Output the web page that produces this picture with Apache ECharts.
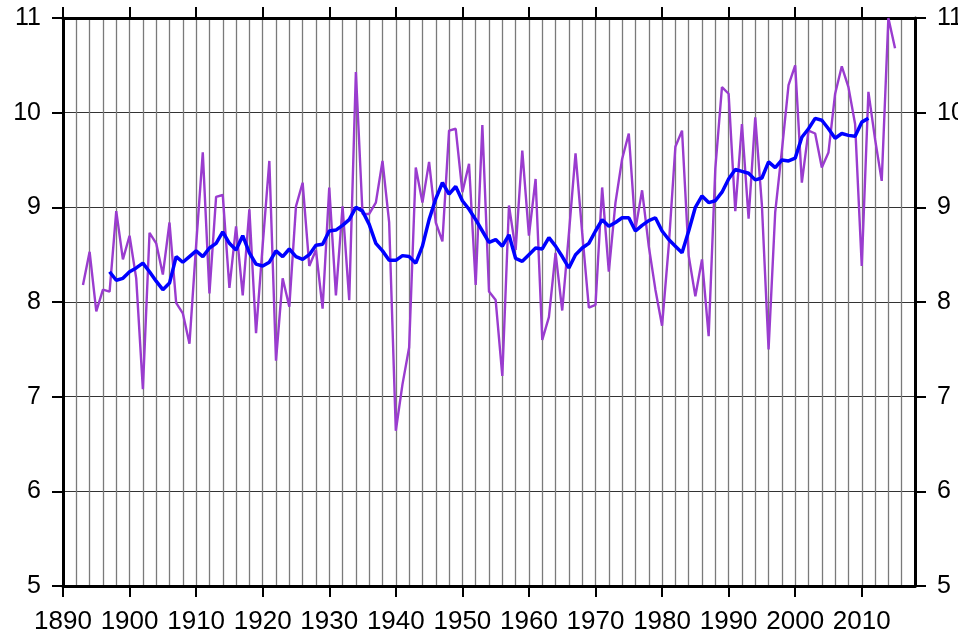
<!DOCTYPE html>
<html>
<head>
<meta charset="utf-8">
<script src="https://cdn.jsdelivr.net/npm/echarts@6/dist/echarts.min.js"></script>
<style>
  html, body { margin: 0; padding: 0; background: #fff; }
  #chart { width: 958px; height: 631px; }
</style>
</head>
<body>
<div id="chart"></div>
<script>
// annual values, 1893 - 2015
var annualStart = 1893;
var annualValues = [
  8.18, 8.53, 7.90, 8.13, 8.11, 8.96, 8.45, 8.70, 8.25, 7.08,
  8.73, 8.62, 8.29, 8.84, 7.99, 7.88, 7.56, 8.60, 9.58, 8.09,
  9.11, 9.13, 8.15, 8.80, 8.07, 8.98, 7.67, 8.60, 9.49, 7.38,
  8.25, 7.95, 9.01, 9.26, 8.38, 8.55, 7.93, 9.21, 8.07, 9.01,
  8.02, 10.43, 8.93, 8.93, 9.05, 9.49, 8.84, 6.64, 7.13, 7.52,
  9.42, 9.05, 9.48, 8.84, 8.64, 9.81, 9.83, 9.16, 9.46, 8.18,
  9.87, 8.11, 8.02, 7.22, 9.02, 8.55, 9.60, 8.70, 9.30, 7.60,
  7.84, 8.52, 7.91, 8.72, 9.57, 8.73, 7.94, 7.97, 9.21, 8.32,
  9.05, 9.51, 9.78, 8.77, 9.18, 8.59, 8.13, 7.75, 8.59, 9.64,
  9.81, 8.49, 8.06, 8.45, 7.64, 9.41, 10.27, 10.20, 8.96, 9.88,
  8.88, 9.95, 9.02, 7.50, 8.95, 9.60, 10.29, 10.50, 9.26, 9.81,
  9.78, 9.42, 9.58, 10.20, 10.49, 10.27, 9.88, 8.38, 10.22, 9.72,
  9.28, 11.00, 10.68
];

// smoothed values, 1897 - 2011
var smoothStart = 1897;
var smoothValues = [
  8.32, 8.23, 8.25, 8.32, 8.36, 8.41, 8.32, 8.22, 8.13, 8.20,
  8.48, 8.42, 8.48, 8.54, 8.48, 8.57, 8.62, 8.74, 8.62, 8.55,
  8.70, 8.52, 8.40, 8.38, 8.42, 8.54, 8.48, 8.56, 8.48, 8.45,
  8.50, 8.60, 8.61, 8.75, 8.76, 8.81, 8.87, 9.00, 8.96, 8.82,
  8.62, 8.54, 8.44, 8.44, 8.49, 8.48, 8.41, 8.59, 8.87, 9.09,
  9.26, 9.14, 9.22, 9.07, 8.98, 8.87, 8.75, 8.63, 8.66, 8.59,
  8.71, 8.46, 8.43, 8.50, 8.57, 8.56, 8.68, 8.59, 8.48, 8.36,
  8.50, 8.57, 8.62, 8.75, 8.87, 8.80, 8.84, 8.89, 8.89, 8.75,
  8.81, 8.86, 8.89, 8.75, 8.66, 8.59, 8.52, 8.75, 9.00, 9.12,
  9.05, 9.07, 9.16, 9.30, 9.40, 9.38, 9.36, 9.29, 9.31, 9.48,
  9.42, 9.50, 9.49, 9.52, 9.74, 9.83, 9.94, 9.92, 9.83, 9.73,
  9.78, 9.76, 9.75, 9.90, 9.94
];

var yearTicks = [1890, 1900, 1910, 1920, 1930, 1940, 1950, 1960, 1970, 1980, 1990, 2000, 2010];

function pairs(start, vals) {
  var out = [];
  for (var i = 0; i < vals.length; i++) out.push([start + i, vals[i]]);
  return out;
}

var chart = echarts.init(document.getElementById("chart"), null, { renderer: "canvas" });

var font = "Liberation Sans";
var plain = function (v) { return String(v); };
var axisLine = { show: true, lineStyle: { color: "#000", width: 3 } };
var tick = { show: true, length: 11, lineStyle: { color: "#000", width: 2 } };

var option = {
  animation: false,
  backgroundColor: "#fff",
  grid: { left: 63, top: 18, width: 852, height: 568, containLabel: false, outerBoundsMode: "none" },
  xAxis: [
    {
      type: "value", min: 1890, max: 2018, interval: 10, position: "bottom",
      axisLine: axisLine,
      axisTick: Object.assign({ customValues: yearTicks }, tick),
      axisLabel: { customValues: yearTicks, formatter: plain, fontSize: 26, color: "#000", margin: 23, fontFamily: font },
      splitLine: { show: false }
    },
    {
      type: "value", min: 1890, max: 2018, interval: 10, position: "top",
      axisLine: axisLine,
      axisTick: Object.assign({ customValues: yearTicks }, tick),
      axisLabel: { show: false },
      splitLine: { show: false }
    },
    {
      // 2-year grid lines
      type: "value", min: 1890, max: 2018, interval: 2, position: "bottom",
      axisLine: { show: false }, axisTick: { show: false }, axisLabel: { show: false },
      splitLine: { show: true, lineStyle: { color: "#7a7a7a", width: 1.3 } }
    }
  ],
  yAxis: [
    {
      type: "value", min: 5, max: 11, interval: 1, position: "left",
      axisLine: axisLine, axisTick: tick,
      axisLabel: { fontSize: 25, color: "#000", margin: 22, fontFamily: font },
      splitLine: { show: true, lineStyle: { color: "#333", width: 1 } }
    },
    {
      type: "value", min: 5, max: 11, interval: 1, position: "right",
      axisLine: axisLine, axisTick: tick,
      axisLabel: { fontSize: 25, color: "#000", margin: 22, fontFamily: font },
      splitLine: { show: false }
    }
  ],
  series: [
    {
      type: "line", xAxisIndex: 0, yAxisIndex: 0,
      data: pairs(annualStart, annualValues),
      showSymbol: false,
      lineStyle: { color: "#9a3ccf", width: 2.4 },
      z: 3
    },
    {
      type: "line", xAxisIndex: 0, yAxisIndex: 0,
      data: pairs(smoothStart, smoothValues),
      showSymbol: false,
      lineStyle: { color: "#0000ff", width: 3.5 },
      z: 4
    }
  ]
};

chart.setOption(option);
window.addEventListener("resize", chart.resize);
</script>
</body>
</html>
